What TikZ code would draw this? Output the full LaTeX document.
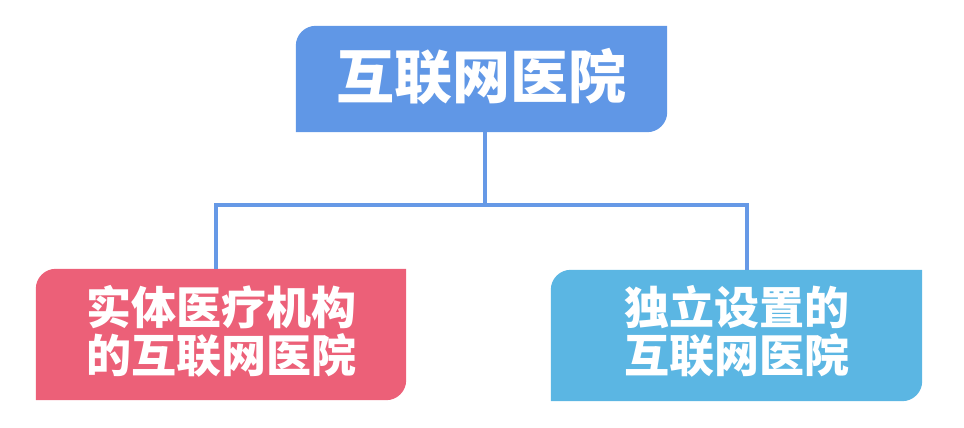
\documentclass[tikz,border=0pt]{standalone}
\usepackage{fontspec}
\newfontfamily\cjk{Noto Sans CJK SC}
\usetikzlibrary{backgrounds,calc}
\definecolor{topblue}{HTML}{6097E6}
\definecolor{linkblue}{HTML}{6699E6}
\definecolor{leafred}{HTML}{EC6078}
\definecolor{leafcyan}{HTML}{5BB6E3}
\tikzset{
  boxtext/.style={text=white, align=center, inner sep=0pt,
    font=\cjk\bfseries\fontsize{45}{48}\selectfont},
  toptext/.style={text=white, inner sep=0pt,
    font=\cjk\bfseries\fontsize{58}{62}\selectfont},
  link/.style={draw=linkblue, line width=4.5pt},
}
\newcommand{\leafshape}[2]{%
  \fill[#2] (#1.south west) -- ([yshift=-20pt]#1.north west)
    arc[start angle=180, end angle=90, radius=20pt] -- (#1.north east)
    -- ([yshift=20pt]#1.south east)
    arc[start angle=0, end angle=-90, radius=20pt] -- cycle;}
\begin{document}
\begin{tikzpicture}[x=1pt,y=1pt]
\useasboundingbox (0,0) rectangle (964,428);
% frames
\node[minimum width=371pt, minimum height=106pt, inner sep=0pt] (top) at (481.5,349) {};
\node[minimum width=370pt, minimum height=131pt, inner sep=0pt] (left) at (221,93.5) {};
\node[minimum width=371pt, minimum height=131pt, inner sep=0pt] (right) at (736.5,92.5) {};
\begin{scope}[on background layer]
\leafshape{top}{topblue}
\leafshape{left}{leafred}
\leafshape{right}{leafcyan}
\end{scope}
% texts
\node[toptext] (toplabel) at (481.5,352) {互联网医院};
\node[boxtext] (leftlabel) at (221,97) {实体医疗机构\\的互联网医院};
\node[boxtext] (rightlabel) at (736.5,97) {独立设置的\\互联网医院};
% connectors
\coordinate (jtop) at (485,223);
\coordinate (jl) at (216,223);
\coordinate (jr) at (747,223);
\begin{scope}[on background layer]
\draw[link] (top.south -| jtop) -- (jtop);
\draw[link, line join=miter] (left.north -| jl) -- (jl) -- (jr) -- (right.north -| jr);
\end{scope}
\end{tikzpicture}
\end{document}
